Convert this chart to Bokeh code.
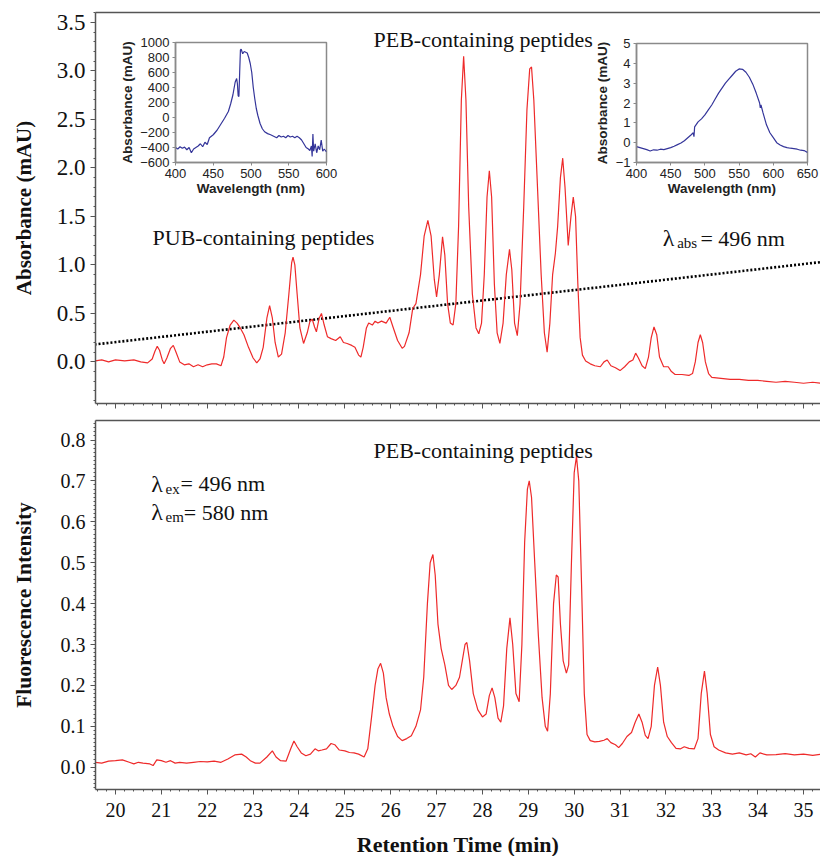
from bokeh.plotting import figure
from bokeh.layouts import column
from bokeh.models import (Range1d, LinearAxis, SingleIntervalTicker, FixedTicker,
                          NumeralTickFormatter, Label, CustomLabelingPolicy)
from bokeh.embed import file_html
from bokeh.resources import INLINE

# ---------------- data ----------------
abs_time = [19.56, 19.7, 19.85, 20.0, 20.2, 20.4, 20.55, 20.7, 20.8, 20.86, 20.91, 20.96, 21.02, 21.06,
            21.12, 21.2, 21.26, 21.32, 21.4, 21.5, 21.6, 21.7, 21.8, 21.9, 22.0, 22.1, 22.2, 22.3,
            22.36, 22.42, 22.5, 22.58, 22.65, 22.72, 22.8, 22.9, 23.0, 23.08, 23.15, 23.22, 23.3,
            23.36, 23.42, 23.48, 23.55, 23.62, 23.7, 23.78, 23.84, 23.87, 23.91, 23.96, 24.02, 24.1,
            24.18, 24.24, 24.29, 24.34, 24.38, 24.44, 24.49, 24.55, 24.62, 24.7, 24.8, 24.9, 24.97,
            25.05, 25.15, 25.22, 25.3, 25.35, 25.4, 25.47, 25.52, 25.6, 25.66, 25.72, 25.8, 25.9,
            25.98, 26.05, 26.15, 26.25, 26.3, 26.4, 26.48, 26.55, 26.65, 26.73, 26.81, 26.88, 26.95,
            27.0, 27.06, 27.13, 27.18, 27.24, 27.3, 27.36, 27.42, 27.48, 27.54, 27.59, 27.64, 27.7,
            27.78, 27.86, 27.92, 27.98, 28.04, 28.1, 28.15, 28.2, 28.26, 28.32, 28.38, 28.45, 28.52,
            28.59, 28.64, 28.7, 28.76, 28.82, 28.9, 28.97, 29.03, 29.07, 29.12, 29.2, 29.28, 29.35,
            29.41, 29.47, 29.53, 29.59, 29.64, 29.7, 29.75, 29.8, 29.87, 29.93, 29.98, 30.03, 30.08,
            30.13, 30.18, 30.25, 30.35, 30.45, 30.57, 30.65, 30.72, 30.8, 30.9, 31.0, 31.1, 31.2,
            31.28, 31.34, 31.4, 31.48, 31.55, 31.62, 31.68, 31.74, 31.8, 31.86, 31.95, 32.05, 32.12,
            32.2, 32.35, 32.5, 32.58, 32.64, 32.7, 32.75, 32.8, 32.86, 32.93, 33.0, 33.2, 33.4, 33.6,
            33.8, 34.0, 34.2, 34.4, 34.6, 34.8, 35.0, 35.2, 35.4]
abs_value = [0.01, 0.02, 0.0, 0.02, 0.01, 0.02, 0.0, -0.01, 0.03, 0.11, 0.16, 0.12, 0.02, -0.02,
             0.04, 0.14, 0.17, 0.1, 0.0, -0.03, -0.02, -0.05, -0.03, -0.05, -0.03, -0.02, -0.02, -0.04,
             0.05, 0.25, 0.38, 0.43, 0.40, 0.35, 0.28, 0.15, 0.04, -0.01, 0.03, 0.15, 0.45,
             0.58, 0.45, 0.2, 0.05, 0.08, 0.3, 0.7, 1.02, 1.08, 1.0, 0.7, 0.35, 0.19,
             0.3, 0.42, 0.44, 0.36, 0.31, 0.45, 0.5, 0.38, 0.26, 0.24, 0.22, 0.26, 0.2,
             0.19, 0.17, 0.15, 0.07, 0.05, 0.15, 0.35, 0.40, 0.38, 0.42, 0.40, 0.42, 0.40,
             0.46, 0.36, 0.22, 0.14, 0.16, 0.3, 0.55, 0.6, 0.9, 1.3, 1.46, 1.3, 0.85,
             0.67, 0.9, 1.29, 1.1, 0.6, 0.4, 0.38, 0.6, 1.4, 2.7, 3.15, 2.7, 1.6,
             0.7, 0.35, 0.29, 0.4, 0.9, 1.7, 1.97, 1.7, 0.8, 0.3, 0.19, 0.4, 0.9,
             1.16, 0.95, 0.4, 0.27, 0.6, 1.6, 2.6, 3.02, 3.04, 2.7, 1.8, 0.9, 0.3,
             0.1, 0.4, 0.9, 1.12, 1.4, 1.9, 2.10, 1.8, 1.2, 1.5, 1.70, 1.5, 0.8,
             0.25, 0.07, 0.01, -0.02, -0.04, -0.05, 0.0, 0.02, -0.04, -0.06, -0.09, -0.05, 0.0,
             0.02, 0.09, 0.04, -0.04, -0.07, 0.05, 0.25, 0.36, 0.28, 0.05, -0.05, -0.05, -0.1,
             -0.13, -0.13, -0.14, -0.12, 0.0, 0.2, 0.28, 0.2, 0.0, -0.12, -0.16, -0.17, -0.18, -0.18,
             -0.19, -0.19, -0.20, -0.21, -0.20, -0.21, -0.22, -0.21, -0.22]

gradient_time = [19.37, 35.4]
gradient_value = [0.17, 1.03]

fl_time = [19.56, 19.7, 19.85, 20.0, 20.15, 20.3, 20.4, 20.5, 20.6, 20.75, 20.82, 20.9, 21.0, 21.1,
           21.2, 21.3, 21.4, 21.55, 21.7, 21.85, 22.0, 22.15, 22.3, 22.45, 22.6, 22.75, 22.85, 22.95,
           23.05, 23.15, 23.3, 23.42, 23.5, 23.6, 23.72, 23.82, 23.89, 23.96, 24.05, 24.15, 24.25,
           24.35, 24.42, 24.5, 24.6, 24.7, 24.78, 24.88, 25.0, 25.1, 25.2, 25.3, 25.42, 25.5, 25.58,
           25.66, 25.72, 25.78, 25.84, 25.9, 25.97, 26.05, 26.15, 26.25, 26.35, 26.45, 26.55, 26.65,
           26.72, 26.8, 26.86, 26.92, 26.97, 27.03, 27.1, 27.18, 27.26, 27.33, 27.42, 27.5, 27.56,
           27.62, 27.66, 27.72, 27.8, 27.9, 28.0, 28.08, 28.15, 28.21, 28.27, 28.34, 28.4, 28.46,
           28.53, 28.6, 28.66, 28.73, 28.8, 28.86, 28.92, 28.98, 29.02, 29.07, 29.14, 29.22, 29.3,
           29.37, 29.42, 29.48, 29.55, 29.61, 29.65, 29.7, 29.76, 29.83, 29.88, 29.94, 30.0, 30.05,
           30.1, 30.16, 30.22, 30.28, 30.35, 30.45, 30.55, 30.65, 30.72, 30.8, 30.9, 30.97, 31.05,
           31.15, 31.25, 31.33, 31.41, 31.48, 31.55, 31.61, 31.68, 31.75, 31.82, 31.88, 31.95, 32.03,
           32.12, 32.22, 32.32, 32.4, 32.5, 32.62, 32.7, 32.77, 32.84, 32.9, 32.97, 33.05, 33.15,
           33.3, 33.45, 33.6, 33.75, 33.85, 33.95, 34.05, 34.2, 34.4, 34.6, 34.8, 35.0, 35.2, 35.4]
fl_value = [0.012, 0.01, 0.015, 0.016, 0.018, 0.012, 0.008, 0.012, 0.01, 0.008, 0.004, 0.018, 0.016, 0.012,
            0.016, 0.01, 0.012, 0.01, 0.012, 0.014, 0.013, 0.015, 0.012, 0.02, 0.03, 0.032, 0.025, 0.015,
            0.01, 0.01, 0.025, 0.04, 0.025, 0.016, 0.015, 0.045, 0.064, 0.05, 0.035, 0.028, 0.032,
            0.045, 0.04, 0.042, 0.045, 0.058, 0.055, 0.042, 0.04, 0.036, 0.035, 0.032, 0.025, 0.045, 0.12,
            0.2, 0.24, 0.254, 0.23, 0.17, 0.13, 0.1, 0.075, 0.065, 0.07, 0.077, 0.1, 0.14,
            0.22, 0.4, 0.5, 0.52, 0.47, 0.35, 0.29, 0.25, 0.2, 0.19, 0.2, 0.22, 0.26,
            0.3, 0.305, 0.26, 0.18, 0.14, 0.123, 0.13, 0.175, 0.194, 0.17, 0.12, 0.11, 0.15,
            0.29, 0.365, 0.3, 0.18, 0.16, 0.3, 0.55, 0.68, 0.70, 0.66, 0.5, 0.32, 0.17,
            0.1, 0.088, 0.18, 0.4, 0.47, 0.465, 0.35, 0.26, 0.23, 0.25, 0.5, 0.72, 0.76,
            0.7, 0.45, 0.18, 0.08, 0.065, 0.062, 0.063, 0.066, 0.07, 0.06, 0.055, 0.048, 0.058,
            0.075, 0.085, 0.11, 0.13, 0.11, 0.078, 0.07, 0.1, 0.2, 0.245, 0.2, 0.11, 0.075,
            0.06, 0.046, 0.045, 0.05, 0.046, 0.045, 0.07, 0.18, 0.235, 0.18, 0.08, 0.05, 0.042,
            0.035, 0.032, 0.035, 0.03, 0.033, 0.025, 0.035, 0.03, 0.031, 0.033, 0.03, 0.032, 0.029, 0.032]

pub_wavelength = [400, 403, 406, 409, 412, 415, 418, 421, 424, 427, 430, 433, 436, 439, 442, 445, 450,
                  455, 460, 465, 470, 473, 476, 479, 481, 482, 483, 484, 485, 486, 487, 489, 491, 493,
                  495, 497, 499, 501, 503, 505, 507, 509, 512, 515, 518, 522, 526, 530, 534, 537, 540,
                  543, 546, 549, 552, 555, 558, 561, 564, 567, 570, 573, 576, 578, 580, 581, 582, 583,
                  585, 587, 589, 591, 593, 595, 597, 600]
pub_absorbance = [-400, -420, -390, -410, -395, -430, -400, -470, -420, -400, -380, -350, -390, -330,
                  -360, -270, -230, -170, -90, -10, 80, 180, 300, 470, 520, 450, 290, 280, 600, 900,
                  910, 850, 880, 870, 860, 800, 720, 600, 400, 250, 120, 30, -80, -150, -190, -215,
                  -230, -250, -270, -240, -260, -250, -270, -240, -260, -250, -270, -250, -270, -300,
                  -350, -400, -420, -440, -380, -520, -220, -450, -350, -470, -380, -430, -300, -450,
                  -420, -460]

peb_wavelength = [400, 405, 410, 415, 420, 425, 430, 435, 440, 445, 450, 455, 460, 465, 470, 475, 480,
                  483, 484, 485, 487, 490, 495, 500, 505, 510, 515, 520, 525, 530, 535, 540, 545, 550,
                  555, 560, 565, 570, 575, 580, 581, 582, 585, 590, 595, 600, 605, 610, 615, 620, 625,
                  630, 635, 640, 645, 650]
peb_absorbance = [-0.2, -0.25, -0.3, -0.35, -0.42, -0.36, -0.38, -0.33, -0.35, -0.3, -0.25, -0.18, -0.1,
                  -0.02, 0.1, 0.25, 0.4, 0.5, 0.3, 0.8, 0.9, 1.05, 1.2, 1.4, 1.65, 1.9, 2.2, 2.5, 2.75,
                  3.0, 3.2, 3.4, 3.6, 3.72, 3.7, 3.55, 3.3, 2.95, 2.5, 2.0, 1.75, 1.9, 1.5, 0.9, 0.5,
                  0.25, 0.0, -0.12, -0.2, -0.25, -0.28, -0.3, -0.33, -0.38, -0.4, -0.5]

x_ticks_inset1 = [400, 450, 500, 550, 600]
y_ticks_inset1 = [-600, -400, -200, 0, 200, 400, 600, 800, 1000]
x_ticks_inset2 = [400, 450, 500, 550, 600, 650]
y_ticks_inset2 = [-1, 0, 1, 2, 3, 4, 5]

# ---------------- styles ----------------
SERIF = "Liberation Serif"
SANS = "Liberation Sans"
RED = "#ee2a2a"
BLUE = "#34359a"
AX = "#555555"
TXT = "#111111"


def style_main_axis(ax, label_size):
    ax.axis_line_color = AX
    ax.axis_line_width = 1.5
    ax.major_tick_line_color = AX
    ax.minor_tick_line_color = AX
    ax.major_tick_out = 5
    ax.major_tick_in = 0
    ax.minor_tick_out = 2
    ax.minor_tick_in = 0
    ax.major_label_text_font = SERIF
    ax.major_label_text_font_size = label_size
    ax.major_label_text_color = TXT
    ax.major_label_standoff = 5
    ax.axis_label_text_font = SERIF
    ax.axis_label_text_font_style = "bold"
    ax.axis_label_text_color = TXT


def top_border(p):
    ax = LinearAxis(ticker=FixedTicker(ticks=[]), major_tick_in=0, major_tick_out=0,
                    minor_tick_in=0, minor_tick_out=0, axis_line_color=AX, axis_line_width=1.5,
                    major_label_standoff=0)
    p.add_layout(ax, "above")


x_range = Range1d(19.564, 35.37)

# ---------------- top panel ----------------
p1 = figure(frame_width=725, frame_height=391, x_range=x_range, y_range=Range1d(-0.429, 3.602),
            min_border_left=95, min_border_right=0, min_border_top=12, min_border_bottom=8,
            output_backend="svg", toolbar_location=None)
p1.outline_line_color = None
p1.grid.grid_line_color = None
p1.xaxis.ticker = SingleIntervalTicker(interval=1, num_minor_ticks=5)
p1.yaxis.ticker = SingleIntervalTicker(interval=0.5, num_minor_ticks=5)
p1.yaxis.formatter = NumeralTickFormatter(format="0.0")
style_main_axis(p1.xaxis[0], "0px")
style_main_axis(p1.yaxis[0], "23px")
p1.xaxis.major_label_standoff = 0
p1.xaxis.major_label_policy = CustomLabelingPolicy(
    code="for (const i of Array.from(indices)) { indices.unset(i) }\nreturn indices")
p1.yaxis.axis_label = "Absorbance (mAU)"
p1.yaxis.axis_label_text_font_size = "21px"
p1.yaxis.axis_label_standoff = 18
top_border(p1)

p1.line(gradient_time, gradient_value, line_color="black", line_width=2.6, line_dash="2 2")
p1.line(abs_time, abs_value, line_color=RED, line_width=1.2)

for txt, x, y, size in [("PEB-containing peptides", 25.625, 3.32, "22px"),
                        ("PUB-containing peptides", 20.807, 1.287, "22px"),
                        ("λ", 31.93, 1.273, "24px"),
                        ("abs", 32.245, 1.222, "15px"),
                        ("= 496 nm", 32.753, 1.273, "22px")]:
    p1.add_layout(Label(x=x, y=y, text=txt, text_font=SERIF, text_font_size=size,
                        text_color=TXT, text_baseline="alphabetic", text_align="left"))

# ---------------- bottom panel ----------------
p2 = figure(frame_width=725, frame_height=369, x_range=x_range, y_range=Range1d(-0.0545, 0.8477),
            min_border_left=95, min_border_right=0, min_border_top=9, min_border_bottom=67,
            output_backend="svg", toolbar_location=None)
p2.outline_line_color = None
p2.grid.grid_line_color = None
p2.xaxis.ticker = SingleIntervalTicker(interval=1, num_minor_ticks=5)
p2.yaxis.ticker = SingleIntervalTicker(interval=0.1, num_minor_ticks=10)
p2.yaxis.formatter = NumeralTickFormatter(format="0.0")
style_main_axis(p2.xaxis[0], "20px")
style_main_axis(p2.yaxis[0], "20px")
p2.xaxis.major_label_standoff = 8
p2.xaxis.axis_label = "Retention Time (min)"
p2.xaxis.axis_label_text_font_size = "22px"
p2.xaxis.axis_label_standoff = 12
p2.yaxis.axis_label = "Fluorescence Intensity"
p2.yaxis.axis_label_text_font_size = "21.5px"
p2.yaxis.axis_label_standoff = 22
top_border(p2)

p2.line(fl_time, fl_value, line_color=RED, line_width=1.2)

for txt, x, y, size in [("PEB-containing peptides", 25.625, 0.7743, "22px"),
                        ("λ", 20.78, 0.6929, "24px"),
                        ("ex", 21.09, 0.6807, "15px"),
                        ("= 496 nm", 21.417, 0.6929, "22px"),
                        ("λ", 20.78, 0.6235, "24px"),
                        ("em", 21.09, 0.6112, "15px"),
                        ("= 580 nm", 21.489, 0.6235, "22px")]:
    p2.add_layout(Label(x=x, y=y, text=txt, text_font=SERIF, text_font_size=size,
                        text_color=TXT, text_baseline="alphabetic", text_align="left"))


# ---------------- insets ----------------
def make_inset(xr, yr, fw, fh, left_border, left, top, xticks, yticks, wl, val, ystandoff):
    q = figure(frame_width=fw, frame_height=fh, x_range=Range1d(*xr), y_range=Range1d(*yr),
               min_border_left=left_border, min_border_right=12, min_border_top=10,
               min_border_bottom=40, output_backend="svg", toolbar_location=None,
               styles={"position": "absolute", "left": f"{left}px", "top": f"{top}px",
                       "z-index": "10"})
    q.background_fill_alpha = 0
    q.border_fill_alpha = 0
    q.outline_line_color = "#8a8a8a"
    q.outline_line_width = 1.5
    q.grid.grid_line_color = None
    q.xaxis.ticker = FixedTicker(ticks=xticks)
    q.yaxis.ticker = FixedTicker(ticks=yticks)
    for ax in (q.xaxis[0], q.yaxis[0]):
        ax.axis_line_color = "#8a8a8a"
        ax.axis_line_width = 1.5
        ax.major_tick_line_color = "#8a8a8a"
        ax.major_tick_out = 3
        ax.major_tick_in = 0
        ax.minor_tick_out = 0
        ax.minor_tick_in = 0
        ax.major_label_text_font = SANS
        ax.major_label_text_font_size = "13px"
        ax.major_label_text_color = "#222222"
        ax.major_label_standoff = 3
        ax.axis_label_text_font = SANS
        ax.axis_label_text_font_size = "13.5px"
        ax.axis_label_text_font_style = "bold"
        ax.axis_label_text_color = "#222222"
    q.xaxis.axis_label = "Wavelength (nm)"
    q.xaxis.axis_label_standoff = 0
    q.yaxis.axis_label = "Absorbance (mAU)"
    q.yaxis.axis_label_standoff = ystandoff
    q.line(wl, val, line_color=BLUE, line_width=1.2)
    return q


inset1 = make_inset((400, 600), (-600, 1000), 151, 120, 60, 115, 32,
                    x_ticks_inset1, y_ticks_inset1, pub_wavelength, pub_absorbance, 2)
inset2 = make_inset((400, 650), (-1, 5), 171, 119, 45, 591, 33,
                    x_ticks_inset2, y_ticks_inset2, peb_wavelength, peb_absorbance, 3)

layout = column(p1, p2, spacing=0)
open("out.html", "w").write(file_html([layout, inset1, inset2], INLINE))
